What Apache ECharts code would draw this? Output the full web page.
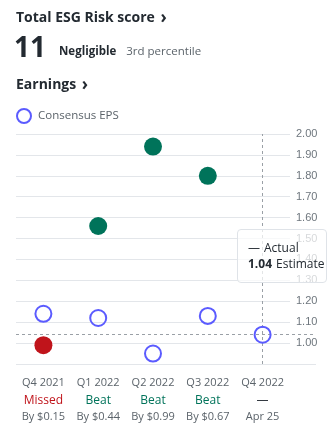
<!DOCTYPE html>
<html>
<head>
<meta charset="utf-8">
<script src="https://cdn.jsdelivr.net/npm/echarts@6/dist/echarts.min.js"></script>
<style>
  html, body { margin: 0; padding: 0; background: #fff; }
  #chart { width: 336px; height: 436px; }
</style>
</head>
<body>
<div id="chart"></div>
<script>
// Quarterly EPS: consensus estimate vs reported actual
const quarters = ['Q4 2021', 'Q1 2022', 'Q2 2022', 'Q3 2022', 'Q4 2022'];
const estimateEPS = [1.14, 1.12, 0.95, 1.13, 1.04];
const actualEPS = [0.99, 1.56, 1.94, 1.80, null];
const upcomingDate = 'Apr 25';
const yTicks = [0.9, 1.0, 1.1, 1.2, 1.3, 1.4, 1.5, 1.6, 1.7, 1.8, 1.9, 2.0];

const esgScore = '11';
const esgLevel = 'Negligible';
const esgPercentile = '3rd percentile';

const DARK = '#232a31';
const GRAY = '#5b636a';
const BLUE = '#5b5bff';
const GREEN = '#00735a';
const RED = '#c0141b';
const GRID = '#e3e6ea';

const yMin = yTicks[0], yMax = yTicks[yTicks.length - 1];
const highlightIndex = quarters.length - 1;

function quarterLabel(value, idx) {
  const a = actualEPS[idx], e = estimateEPS[idx];
  if (a == null) return value + '\n{none|—}\n{sub|' + upcomingDate + '}';
  const diff = Math.abs(a - e).toFixed(2);
  const tag = a >= e ? '{beat|Beat}' : '{miss|Missed}';
  return value + '\n' + tag + '\n{sub|By $' + diff + '}';
}

const chart = echarts.init(document.getElementById('chart'), null, { renderer: 'canvas' });

chart.setOption({
  animation: false,
  textStyle: { fontFamily: 'Open Sans' },
  title: [
    {
      left: 16, top: 10, padding: 0,
      text: 'Total ESG Risk score {chev|›}',
      textStyle: {
        fontFamily: 'Open Sans', fontSize: 14, fontWeight: 'bold', color: DARK,
        rich: { chev: { fontFamily: 'Open Sans', fontSize: 17, fontWeight: 'bold', color: DARK, padding: [0, 0, 0, 2] } }
      }
    },
    {
      left: 14, top: 35, padding: 0,
      text: '{big|' + esgScore + '}{gap| }{lvl|' + esgLevel + '}{gap2| }{pct|' + esgPercentile + '}',
      textStyle: {
        fontWeight: 'normal',
        rich: {
          big: { fontFamily: 'Open Sans', fontSize: 28, fontWeight: 'bold', color: DARK, verticalAlign: 'bottom' },
          gap: { fontSize: 11, width: 13 },
          gap2: { fontSize: 11, width: 10 },
          lvl: { fontFamily: 'Open Sans', fontSize: 11.5, fontWeight: 'bold', color: DARK, verticalAlign: 'bottom', padding: [0, 0, 5, 0] },
          pct: { fontFamily: 'Open Sans', fontSize: 11.5, fontWeight: 'normal', color: GRAY, verticalAlign: 'bottom', padding: [0, 0, 5, 0] }
        }
      }
    },
    {
      left: 16, top: 77, padding: 0,
      text: 'Earnings {chev|›}',
      textStyle: {
        fontFamily: 'Open Sans', fontSize: 14, fontWeight: 'bold', color: DARK,
        rich: { chev: { fontFamily: 'Open Sans', fontSize: 17, fontWeight: 'bold', color: DARK, padding: [0, 0, 0, 2] } }
      }
    }
  ],
  legend: {
    left: 16, top: 108, padding: 0,
    data: ['Consensus EPS'],
    itemWidth: 14, itemHeight: 14, itemGap: 6,
    selectedMode: false,
    textStyle: { fontFamily: 'Open Sans', fontSize: 11.5, color: GRAY, padding: [0, 0, 0, 2] }
  },
  grid: [
    { left: 16, right: 46, top: 134, bottom: 72 },
    { left: 16, right: 20, top: 134, bottom: 72 }
  ],
  xAxis: [
    {
      type: 'category', gridIndex: 0, data: quarters,
      axisLine: { show: false }, axisTick: { show: false },
      axisLabel: {
        interval: 0, hideOverlap: false,
        margin: 10, color: GRAY, fontFamily: 'Open Sans', fontSize: 11, lineHeight: 17,
        formatter: quarterLabel,
        rich: {
          beat: { color: GREEN, fontFamily: 'Open Sans', fontSize: 12, lineHeight: 19 },
          miss: { color: RED, fontFamily: 'Open Sans', fontSize: 12, lineHeight: 19 },
          none: { color: DARK, fontFamily: 'Open Sans', fontSize: 12, lineHeight: 19 },
          sub: { color: GRAY, fontFamily: 'Open Sans', fontSize: 11, lineHeight: 14 }
        }
      }
    },
    {
      type: 'value', gridIndex: 1, min: 0, max: 1,
      axisLine: { show: false }, axisTick: { show: false }, axisLabel: { show: false },
      splitLine: { show: false }
    }
  ],
  yAxis: [
    {
      type: 'value', gridIndex: 0, position: 'right',
      min: yMin, max: yMax, interval: 0.1,
      axisLine: { show: false }, axisTick: { show: false },
      axisLabel: {
        margin: 6, color: '#6e767d', fontFamily: 'Liberation Sans', fontSize: 11,
        formatter: v => (v <= yMin + 1e-9 ? '' : v.toFixed(2))
      },
      splitLine: { lineStyle: { color: GRID, width: 1 } }
    },
    {
      type: 'value', gridIndex: 1, min: yMin, max: yMax,
      axisLine: { show: false }, axisTick: { show: false }, axisLabel: { show: false },
      splitLine: { show: false }
    }
  ],
  tooltip: {
    trigger: 'item',
    triggerOn: 'none',
    alwaysShowContent: true,
    transitionDuration: 0,
    position: [237, 229],
    backgroundColor: 'rgba(255,255,255,0.72)',
    borderColor: '#dfe3e8',
    borderWidth: 1,
    padding: [10, 10],
    extraCssText: 'box-shadow:none;border-radius:4px;width:68px;',
    formatter: p => {
      const i = p.dataIndex;
      const a = actualEPS[i];
      const st = 'font-family:Open Sans;font-size:12px;line-height:16px;color:' + DARK + ';white-space:nowrap;';
      return '<div style="' + st + '">' +
        '<span style="display:inline-block;width:16px;">' + (a == null ? '—' : a.toFixed(2)) + '</span>Actual</div>' +
        '<div style="' + st + '"><b style="margin-right:4px;">' + estimateEPS[i].toFixed(2) + '</b>Estimate</div>';
    }
  },
  series: [
    {
      name: 'Consensus EPS',
      type: 'scatter',
      xAxisIndex: 0, yAxisIndex: 0,
      data: estimateEPS,
      symbol: 'circle',
      symbolSize: 16,
      itemStyle: { color: 'rgba(255,255,255,0)', borderColor: BLUE, borderWidth: 2, opacity: 1 },
      z: 5,
      markLine: {
        silent: true, symbol: 'none', label: { show: false },
        lineStyle: { color: '#9aa0a6', type: [3, 3], width: 1 },
        data: [{ xAxis: quarters[highlightIndex] }]
      }
    },
    {
      name: 'Actual EPS',
      type: 'scatter',
      xAxisIndex: 0, yAxisIndex: 0,
      data: actualEPS.map((v, i) => ({
        value: v,
        itemStyle: { color: v != null && v >= estimateEPS[i] ? GREEN : RED, opacity: 1 }
      })),
      symbol: 'circle',
      symbolSize: 18,
      z: 4
    },
    {
      // baseline and the estimate guide across the full width
      name: 'guides',
      type: 'line',
      xAxisIndex: 1, yAxisIndex: 1,
      data: [],
      silent: true,
      markLine: {
        silent: true, symbol: 'none', label: { show: false },
        data: [
          { yAxis: yMin, lineStyle: { color: GRID, type: 'solid', width: 1 } },
          { yAxis: estimateEPS[highlightIndex], lineStyle: { color: '#9aa0a6', type: [3, 3], width: 1 } }
        ]
      }
    }
  ]
});

chart.dispatchAction({ type: 'showTip', seriesIndex: 0, dataIndex: highlightIndex });
</script>
</body>
</html>
